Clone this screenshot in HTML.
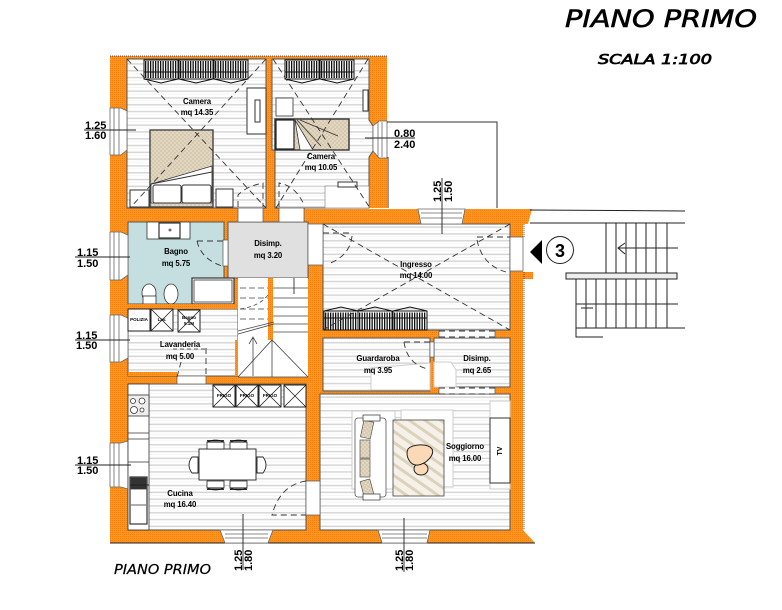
<!DOCTYPE html>
<html><head><meta charset="utf-8"><style>
html,body{margin:0;padding:0;background:#fff}
svg{display:block}
text{font-family:"Liberation Sans",sans-serif;fill:#000}
.l{font-size:7.8px;font-weight:bold;text-anchor:middle;letter-spacing:-.1px}
.d{font-size:11px;font-weight:bold}
.s{font-size:4.5px;font-weight:bold;text-anchor:middle}
.t{font-family:"DejaVu Sans",sans-serif;font-style:oblique;stroke:#000}
</style></head><body>
<svg width="782" height="610" viewBox="0 0 782 610" xmlns="http://www.w3.org/2000/svg">
<defs>
<pattern id="h" width="8" height="6.8" patternUnits="userSpaceOnUse"><rect width="8" height="6.8" fill="#fff"/><rect y="2" width="8" height="1.5" fill="#d6d6d6"/><rect y="5.5" width="8" height=".5" fill="#ececec"/></pattern>
<pattern id="o" width="2" height="2" patternUnits="userSpaceOnUse"><rect width="2" height="2" fill="#ff951f"/><rect width="1" height="1" fill="#f47f0c"/></pattern>
<pattern id="b" width="4" height="4" patternUnits="userSpaceOnUse"><rect width="4" height="4" fill="#d6c9ae"/><circle cx="1" cy="1" r=".8" fill="#efe8da"/><circle cx="3" cy="3" r=".8" fill="#efe8da"/></pattern>
<pattern id="r" width="9" height="9" patternUnits="userSpaceOnUse" patternTransform="rotate(35)"><rect width="9" height="9" fill="#f5f1e8"/><rect width="9" height="3" fill="#dcd2bc"/></pattern>
<g id="c"><path d="M0 4L17 0L34 4" fill="none" stroke="#111" stroke-width="1"/><rect x="0" y="4" width="34" height="19" fill="#fff" stroke="#111" stroke-width="1"/><path d="M1 14H33" stroke="#111" stroke-width="17" stroke-dasharray="1.3 1.2"/><path d="M0 11H34" stroke="#111" stroke-width="1"/></g>
<g id="cd"><path d="M0 19L17 23L34 19" fill="none" stroke="#111" stroke-width="1"/><rect x="0" y="0" width="34" height="19" fill="#fff" stroke="#111" stroke-width="1"/><path d="M1 9.5H33" stroke="#111" stroke-width="17" stroke-dasharray="1.3 1.2"/><path d="M0 12H34" stroke="#111" stroke-width="1"/></g>
<g id="x"><rect width="22" height="22" fill="#fff" stroke="#222" stroke-width="1"/><path d="M0 0L22 22M22 0L0 22" stroke="#222" stroke-width=".8"/></g>
<g id="ch"><path d="M0 10V3Q8.5 -1 17 3V10Z" fill="#fff" stroke="#222" stroke-width=".8"/><path d="M0 3H17M0 1.6H17" stroke="#111" stroke-width="1"/></g>
<g id="chb"><path d="M0 0V7Q8.5 11 17 7V0Z" fill="#fff" stroke="#222" stroke-width=".8"/><path d="M0 7H17M0 8.4H17" stroke="#111" stroke-width="1"/></g>
</defs>
<rect width="782" height="610" fill="#fff"/>

<!-- walls -->
<path d="M110 56H387V208H305V209H532L528 224H523V272H533V279H523V530L535 543H110Z" fill="url(#o)"/>
<path d="M110 56H387M524 224V530" fill="none" stroke="#333" stroke-width=".8" stroke-dasharray="1 1"/>
<path d="M110 543H535" stroke="#222" stroke-width="1"/>
<rect x="523" y="237" width="10" height="35" fill="#fff"/>

<!-- rooms -->
<g stroke="#555" stroke-width="1">
<rect x="127" y="59" width="139" height="149" fill="url(#h)"/>
<path d="M272 59H369V120L373 126V151L369 157V208H275V150H272Z" fill="url(#h)"/>
<rect x="128" y="222" width="96" height="82" fill="#c5dfe0"/>
<path d="M228 222H308V278H228Z" fill="#e0e0e0"/>
<rect x="128" y="309" width="110" height="67" fill="url(#h)"/>
<rect x="323" y="224" width="187" height="106" fill="url(#h)"/>
<rect x="323" y="338" width="107" height="53" fill="url(#h)"/>
<rect x="434" y="338" width="76" height="49" fill="url(#h)"/>
<rect x="320" y="394" width="190" height="136" fill="url(#h)"/>
<rect x="128" y="384" width="178" height="146" fill="url(#h)"/>
</g>
<!-- gaps -->
<g fill="#fff" stroke="#555" stroke-width=".7">
<rect x="238" y="208" width="25" height="14"/><rect x="279" y="208" width="25" height="14"/>
<rect x="177" y="376" width="29" height="8"/>
<rect x="308" y="224" width="15" height="41"/>
<rect x="510" y="237" width="13" height="34"/>
<rect x="439" y="330" width="56" height="8"/><rect x="439" y="387" width="56" height="7"/>
<rect x="306" y="481" width="14" height="34"/>
<rect x="223" y="240" width="5" height="26"/>
<rect x="430" y="342" width="4" height="15"/>
</g>

<!-- stairs -->
<rect x="238" y="278" width="30" height="62" fill="#fff"/>
<rect x="273" y="278" width="35" height="99" fill="#fff"/>
<rect x="238" y="340" width="70" height="37" fill="#fff"/>
<rect x="268" y="278" width="5" height="46" fill="url(#o)"/>
<rect x="235" y="340" width="3" height="36" fill="url(#o)"/>
<g stroke="#444" stroke-width=".8" fill="none">
<path d="M273 288H308M273 298H308M273 307H308M273 316H308M273 324H308M273 332H308"/>
<path d="M294 278V294" stroke-width="1"/>
<path d="M240 288H268M240 298H268M240 309H268M240 319H268" stroke-dasharray="6 3"/>
<path d="M240 309Q260 306 268 295" stroke-dasharray="4 3"/>
<path d="M238 334L274 324M238 331L274 322" />
<path d="M238 377L272 340L308 377M272 340V377M238 377H308"/>
<path d="M253 376V338M249 344L253 337L257 344"/>
</g>

<!-- windows -->
<g fill="#fff" stroke="#666" stroke-width=".8">
<path d="M110 108H121L127 111V150L121 155H110Z"/>
<path d="M110 232H121L128 235V275L121 280H110Z"/>
<path d="M110 315H121L128 318V358L121 362H110Z"/>
<path d="M110 443H121L128 441V489L121 487H110Z"/>
<path d="M373 126L379 121H387V158H379L373 151Z"/>
<path d="M418 209H465L462 224H421Z"/>
<path d="M220 530H273L268 543H225Z"/>
<path d="M378 530H430L427 543H382Z"/>
<path d="M114 108V155M119 108V155M114 232V280M119 232V280M114 315V362M119 315V362M114 443V487M119 443V487M378 122V157M382 122V157M421 213H462M421 218H462M225 534H268M225 538H268M382 534H427M382 538H427"/>
</g>

<!-- balcony -->
<path d="M387 122H497V208M388 157V208" fill="none" stroke="#333" stroke-width="1"/>

<!-- closets -->
<use href="#cd" x="144" y="60"/><use href="#cd" x="179" y="60"/><use href="#cd" x="214" y="60"/>
<use href="#cd" x="285" y="60"/><use href="#cd" x="320" y="60"/>
<use href="#c" x="324" y="307"/><use href="#c" x="358" y="307"/><use href="#c" x="393" y="307"/>

<!-- camera 1 -->
<rect x="247" y="88" width="19" height="46" fill="#fff" stroke="#333"/>
<rect x="255" y="100" width="5" height="22" fill="#fff" stroke="#333"/>
<rect x="150" y="130" width="63" height="77" fill="url(#b)" stroke="#444" stroke-width="1.4"/>
<path d="M151 184L212 166V203H151Z" fill="#fff" stroke="#333" stroke-width=".8"/>
<path d="M151 184L212 172" stroke="#333"/>
<rect x="153" y="185" width="28" height="18" rx="2" fill="#fff" stroke="#333"/><rect x="182" y="185" width="29" height="18" rx="2" fill="#fff" stroke="#333"/>
<rect x="130" y="190" width="19" height="17" fill="#fff" stroke="#333"/><rect x="216" y="189" width="17" height="18" fill="#fff" stroke="#333"/>
<!-- camera 2 -->
<rect x="276" y="98" width="17" height="18" fill="#fff" stroke="#555"/>
<rect x="275" y="119" width="74" height="31" fill="url(#b)" stroke="#333" stroke-width="1.4"/>
<rect x="276" y="120" width="18" height="29" fill="#fff" stroke="#222" stroke-width="1.2"/>
<path d="M295 120L313 150H300ZM297 120L321 146M300 120L338 136" fill="#fff" stroke="#333" stroke-width=".8"/>
<rect x="363" y="90" width="5" height="21" fill="#fff" stroke="#333"/>
<rect x="325" y="186" width="44" height="22" fill="#fff" stroke="#777" stroke-width=".6"/>
<rect x="338" y="182" width="19" height="5" fill="#fff" stroke="#333"/>

<!-- bagno -->
<g fill="#fff" stroke="#333" stroke-width=".8">
<rect x="147" y="222" width="43" height="17"/>
<rect x="159" y="223" width="21" height="15" stroke-width="1.2"/><circle cx="170" cy="230" r="1"/>
<rect x="192" y="278" width="42" height="26" stroke-width="1.2"/><rect x="194" y="280" width="38" height="22"/>
<ellipse cx="149" cy="293" rx="7" ry="9"/><rect x="143" y="296" width="13" height="8"/>
<ellipse cx="171" cy="294" rx="7" ry="10"/>
</g>
<path d="M128 304H238V309H128Z" fill="url(#o)"/>
<!-- lavanderia -->
<rect x="128" y="309" width="22" height="22" fill="#fff" stroke="#222"/>
<use href="#x" x="151" y="309"/><use href="#x" x="178" y="310"/>
<rect x="128" y="372" width="49" height="4" fill="url(#o)"/>

<!-- cucina -->
<g stroke="#333" fill="#fff" stroke-width=".8">
<rect x="128" y="384" width="21" height="146" fill="#fff"/>
<rect x="128" y="395" width="21" height="21" fill="#eee"/>
<circle cx="133" cy="401" r="2.5"/><circle cx="142" cy="401" r="3"/><circle cx="134" cy="410" r="3.5"/><circle cx="142" cy="410" r="2"/>
<path d="M128 433H149M128 439H149M128 462H149"/>
<rect x="130" y="477" width="17" height="47" stroke-width="1.2"/>
<rect x="131" y="478" width="15" height="11" fill="#333"/>
<path d="M131 505H146"/>
</g>
<use href="#x" x="213" y="385"/><use href="#x" x="236" y="385"/><use href="#x" x="259" y="385"/><use href="#x" x="284" y="385"/>
<rect x="199" y="449" width="57" height="31" fill="#fff" stroke="#333"/>
<use href="#ch" x="207" y="439"/><use href="#ch" x="230" y="439"/><use href="#chb" x="207" y="481"/><use href="#chb" x="230" y="481"/>
<g fill="#fff" stroke="#222" stroke-width=".9"><path d="M198 457H192Q186 465 192 473H198Z"/><path d="M257 457H263Q269 465 263 473H257Z"/></g>

<!-- guardaroba/disimp ghost shapes -->
<path d="M371 390V368L430 363V390ZM434 362H451L456 370V387H434Z" fill="#fff" stroke="#ccc" stroke-width="1"/>

<!-- soggiorno -->
<g fill="#fff" stroke="#ccc" stroke-width="1">
<path d="M352 411H395V489H352Z"/><path d="M401 410H453V487H401Z" /><rect x="490" y="401" width="20" height="88"/>
</g>
<rect x="355" y="418" width="31" height="79" rx="3" fill="#fff" stroke="#555" stroke-width=".8"/>
<g fill="url(#b)" stroke="#555" stroke-width=".7">
<rect x="362" y="421" width="10" height="17" transform="rotate(12 367 430)"/>
<rect x="360" y="440" width="10" height="18"/><rect x="360" y="459" width="10" height="18"/>
<rect x="362" y="480" width="10" height="17" transform="rotate(-15 367 488)"/>
</g>
<rect x="363" y="415" width="17" height="6" fill="#fff" stroke="#444" stroke-width=".8"/><rect x="363" y="494" width="17" height="6" fill="#fff" stroke="#444" stroke-width=".8"/>
<rect x="393" y="420" width="51" height="76" fill="url(#r)" stroke="#444" stroke-width=".8"/>
<ellipse cx="421" cy="469" rx="7" ry="6" fill="#fcd9b6" stroke="#222"/>
<path d="M408 449C412 444 428 443 432 449C435 455 426 464 418 465C410 466 405 456 408 449Z" fill="#fcd9b6" stroke="#222"/>
<rect x="490" y="418" width="20" height="65" fill="#fff" stroke="#333"/>
<text x="502" y="451" class="s" style="font-size:7px" transform="rotate(-90 502 451)">TV</text>

<!-- dashed -->
<g fill="none" stroke="#333" stroke-width=".9" stroke-dasharray="6 4">
<path d="M127 59L266 208M266 59L130 208"/>
<path d="M273 59L370 208M368 59L276 208"/>
<path d="M323 224L510 330M510 224L323 330"/>
<path d="M238 207V195Q247 186 263 183V207M279 207V183Q296 186 304 205M197 241H224M197 241Q201 259 222 266"/>
<path d="M323 233H352M352 236Q350 256 328 264M477 237H510M477 240Q482 265 506 272"/>
<path d="M404 342H430M404 342Q407 364 428 369"/>
<path d="M439 331H495M439 337H495M439 388H495M439 394H495"/>
<path d="M206 348V378M177 377L181 362M306 481Q280 485 272 515H306"/>
</g>
<path d="M173 349H206" stroke="#333" stroke-width=".8" stroke-dasharray="4 3"/>

<!-- dim lines -->
<g stroke="#222" stroke-width=".9" fill="none">
<path d="M84 130H136M75 257H130M75 340H130M75 465H131M130 485H149M365 138H415M442 178V234M243 514V570M404 518V572"/>
</g>

<!-- labels -->
<text class="l" x="197" y="104">Camera</text><text class="l" x="197" y="115">mq 14.35</text>
<text class="l" x="321" y="159">Camera</text><text class="l" x="321" y="170">mq 10.05</text>
<text class="l" x="176" y="254">Bagno</text><text class="l" x="176" y="266">mq 5.75</text>
<text class="l" x="268" y="246">Disimp.</text><text class="l" x="268" y="258">mq 3.20</text>
<text class="l" x="180" y="347">Lavanderia</text><text class="l" x="180" y="359">mq 5.00</text>
<text class="l" x="416" y="267">Ingresso</text><text class="l" x="416" y="278">mq 14.00</text>
<text class="l" x="378" y="361">Guardaroba</text><text class="l" x="378" y="373">mq 3.95</text>
<text class="l" x="477" y="361">Disimp.</text><text class="l" x="477" y="373">mq 2.65</text>
<text class="l" x="465" y="449">Soggiorno</text><text class="l" x="465" y="461">mq 16.00</text>
<text class="l" x="180" y="496">Cucina</text><text class="l" x="180" y="507">mq 16.40</text>
<text class="s" x="139" y="321">POLIZIA</text><text class="s" x="162" y="321">Lav.</text><text class="s" x="189" y="319">Bagno</text><text class="s" x="189" y="325">5.1M</text>
<text class="s" x="224" y="397">FRIGO</text><text class="s" x="247" y="397">FRIGO</text><text class="s" x="270" y="397">FRIGO</text>

<text class="d" x="85" y="129">1.25</text><text class="d" x="85" y="139">1.60</text>
<text class="d" x="77" y="256">1.15</text><text class="d" x="77" y="267">1.50</text>
<text class="d" x="76" y="339">1.15</text><text class="d" x="76" y="349">1.50</text>
<text class="d" x="77" y="464">1.15</text><text class="d" x="77" y="474">1.50</text>
<text class="d" x="394" y="137">0.80</text><text class="d" x="394" y="148">2.40</text>
<text class="d" transform="translate(441 202) rotate(-90)">1.25</text><text class="d" transform="translate(452 202) rotate(-90)">1.50</text>
<text class="d" transform="translate(242 571) rotate(-90)">1.25</text><text class="d" transform="translate(252 571) rotate(-90)">1.80</text>
<text class="d" transform="translate(403 571) rotate(-90)">1.25</text><text class="d" transform="translate(413 571) rotate(-90)">1.80</text>

<text class="t" x="565" y="27" font-size="24" stroke-width=".6" textLength="192" lengthAdjust="spacingAndGlyphs">PIANO PRIMO</text>
<text class="t" x="598" y="64" font-size="13" stroke-width=".7" textLength="114" lengthAdjust="spacingAndGlyphs">SCALA 1:100</text>
<text class="t" x="114" y="574" font-size="13" stroke-width=".2" textLength="97" lengthAdjust="spacingAndGlyphs">PIANO PRIMO</text>

<!-- ext stairs -->
<g stroke="#222" stroke-width="1" fill="none">
<path d="M530 210L685 211M530 223H685"/>
<path d="M606 223V273M616 223V273M626 223V273M636 223V273M646 223V273M656 223V273M667 223V273"/>
<path d="M618 248H678M625 243L618 248L625 254"/>
<rect x="566" y="273" width="111" height="6" fill="#eee"/>
<path d="M576 279V337H603M586 279V328M596 279V328M606 279V328M616 279V328M626 279V328M636 279V328M646 279V328M656 279V328M667 279V328"/>
<path d="M576 304H678M576 328H685M581 308H593"/>
</g>
<path d="M530 252L542 240V264Z" fill="#000"/>
<circle cx="560" cy="250" r="13.5" fill="#fff" stroke="#222"/>
<text x="560" y="257" text-anchor="middle" font-size="18" font-weight="bold">3</text>
</svg>
</body></html>
